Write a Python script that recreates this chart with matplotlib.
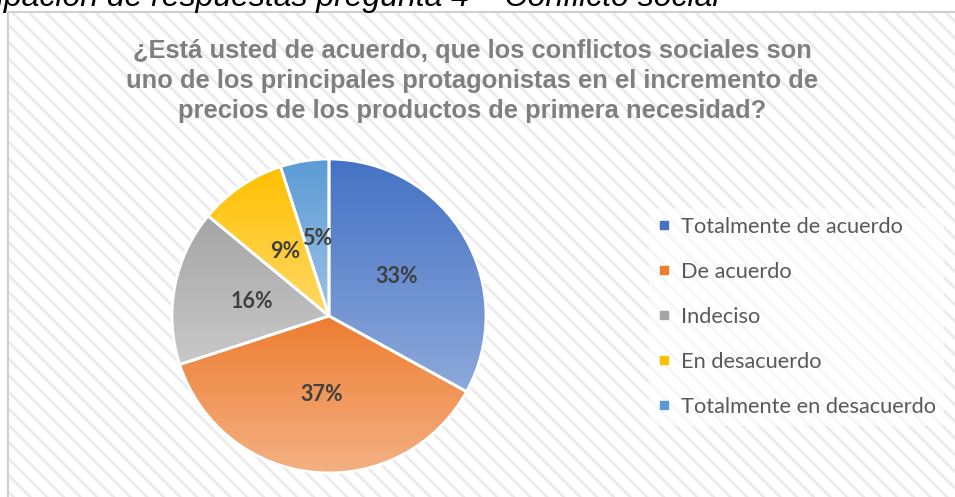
import matplotlib

matplotlib.use("Agg")
import matplotlib.pyplot as plt
import numpy as np
from matplotlib.colors import to_rgba
from matplotlib.lines import Line2D
from matplotlib.patches import Rectangle

CATEGORIES = [
    "Totalmente de acuerdo",
    "De acuerdo",
    "Indeciso",
    "En desacuerdo",
    "Totalmente en desacuerdo",
]
PERCENTS = [33, 37, 16, 9, 5]
TOP_COLORS = ["#4472C4", "#ED7D31", "#A5A5A5", "#FFC000", "#5B9BD5"]
BOTTOM_COLORS = ["#8EA9DB", "#F4B183", "#C9C9C9", "#FFD966", "#9DC3E6"]

TITLE = ("¿Está usted de acuerdo, que los conflictos sociales son\n"
         "uno de los principales protagonistas en el incremento de\n"
         "precios de los productos de primera necesidad?")
CAPTION = "Participación de respuestas pregunta 4 – Conflicto social"

W, H = 955, 497
plt.rcParams["hatch.linewidth"] = 2.0

fig = plt.figure(figsize=(W / 100, H / 100), dpi=100)
fig.patch.set_facecolor("white")

# chart area: hatched background + thin grey border (cut at right/bottom)
x0, ytop = 8 / W, 1 - 12 / H
fig.patches.append(Rectangle((x0, -0.05), 1.1, ytop + 0.05, transform=fig.transFigure,
                             facecolor="white", edgecolor="#EBEBEB", linewidth=0,
                             hatch="\\\\", zorder=-2))
fig.patches.append(Rectangle((x0, -0.05), 1.1, ytop + 0.05, transform=fig.transFigure,
                             facecolor="none", edgecolor="#D0D0D0", linewidth=1.5, zorder=-1))

fig.text(719 / W, 1 - 6 / H, CAPTION, ha="right", va="baseline", fontsize=23,
         style="italic", family="Liberation Sans", color="black")

fig.text(472 / W, 1 - 81 / H, TITLE, ha="center", va="center", fontsize=18.4,
         fontweight="bold", family="Liberation Sans", color="#7F7F7F", linespacing=1.32)

cx, cy, r = 329, 316, 157
ax = fig.add_axes([(cx - r) / W, (H - cy - r) / H, 2 * r / W, 2 * r / H])
ax.set_axis_off()
ax.set_zorder(2)

wedges, _, autotexts = ax.pie(
    PERCENTS, startangle=90, counterclock=False, radius=1,
    autopct=lambda p: f"{p:.0f}%", pctdistance=0.5,
    wedgeprops=dict(edgecolor="white", linewidth=2.0, facecolor="none"),
    textprops=dict(fontsize=15.5, fontweight="bold", color="#404040", family="Lato"),
)

for w, c_top, c_bot in zip(wedges, TOP_COLORS, BOTTOM_COLORS):
    ext = w.get_path().get_extents()
    top = np.array(to_rgba(c_top))
    bot = np.array(to_rgba(c_bot))
    t = np.linspace(0, 1, 256)[:, None]
    grad = (top * (1 - t) + bot * t)[:, None, :]
    im = ax.imshow(grad, extent=(ext.x0, ext.x1, ext.y0, ext.y1), origin="upper",
                   aspect="auto", interpolation="bilinear", zorder=0.5)
    im.set_clip_path(w)
    w.set_zorder(1)
    w.set_clip_on(False)

for t in autotexts:
    t.set_zorder(3)

ax.set_xlim(-1, 1)
ax.set_ylim(-1, 1)

handles = [Line2D([], [], linestyle="none", marker="s", markersize=6,
                  markerfacecolor=c, markeredgecolor=c) for c in TOP_COLORS]
leg = fig.legend(handles, CATEGORIES, loc="upper left",
                 bbox_to_anchor=(638 / W, 1 - 197 / H), frameon=True,
                 handlelength=0.6, handletextpad=0.45, labelspacing=1.15,
                 prop=dict(family="Lato", size=15.7), borderpad=0.4)
leg.get_frame().set_facecolor("white")
leg.get_frame().set_alpha(0.6)
leg.get_frame().set_edgecolor("none")
for txt in leg.get_texts():
    txt.set_color("#595959")

fig.savefig("out.png", dpi=100)
